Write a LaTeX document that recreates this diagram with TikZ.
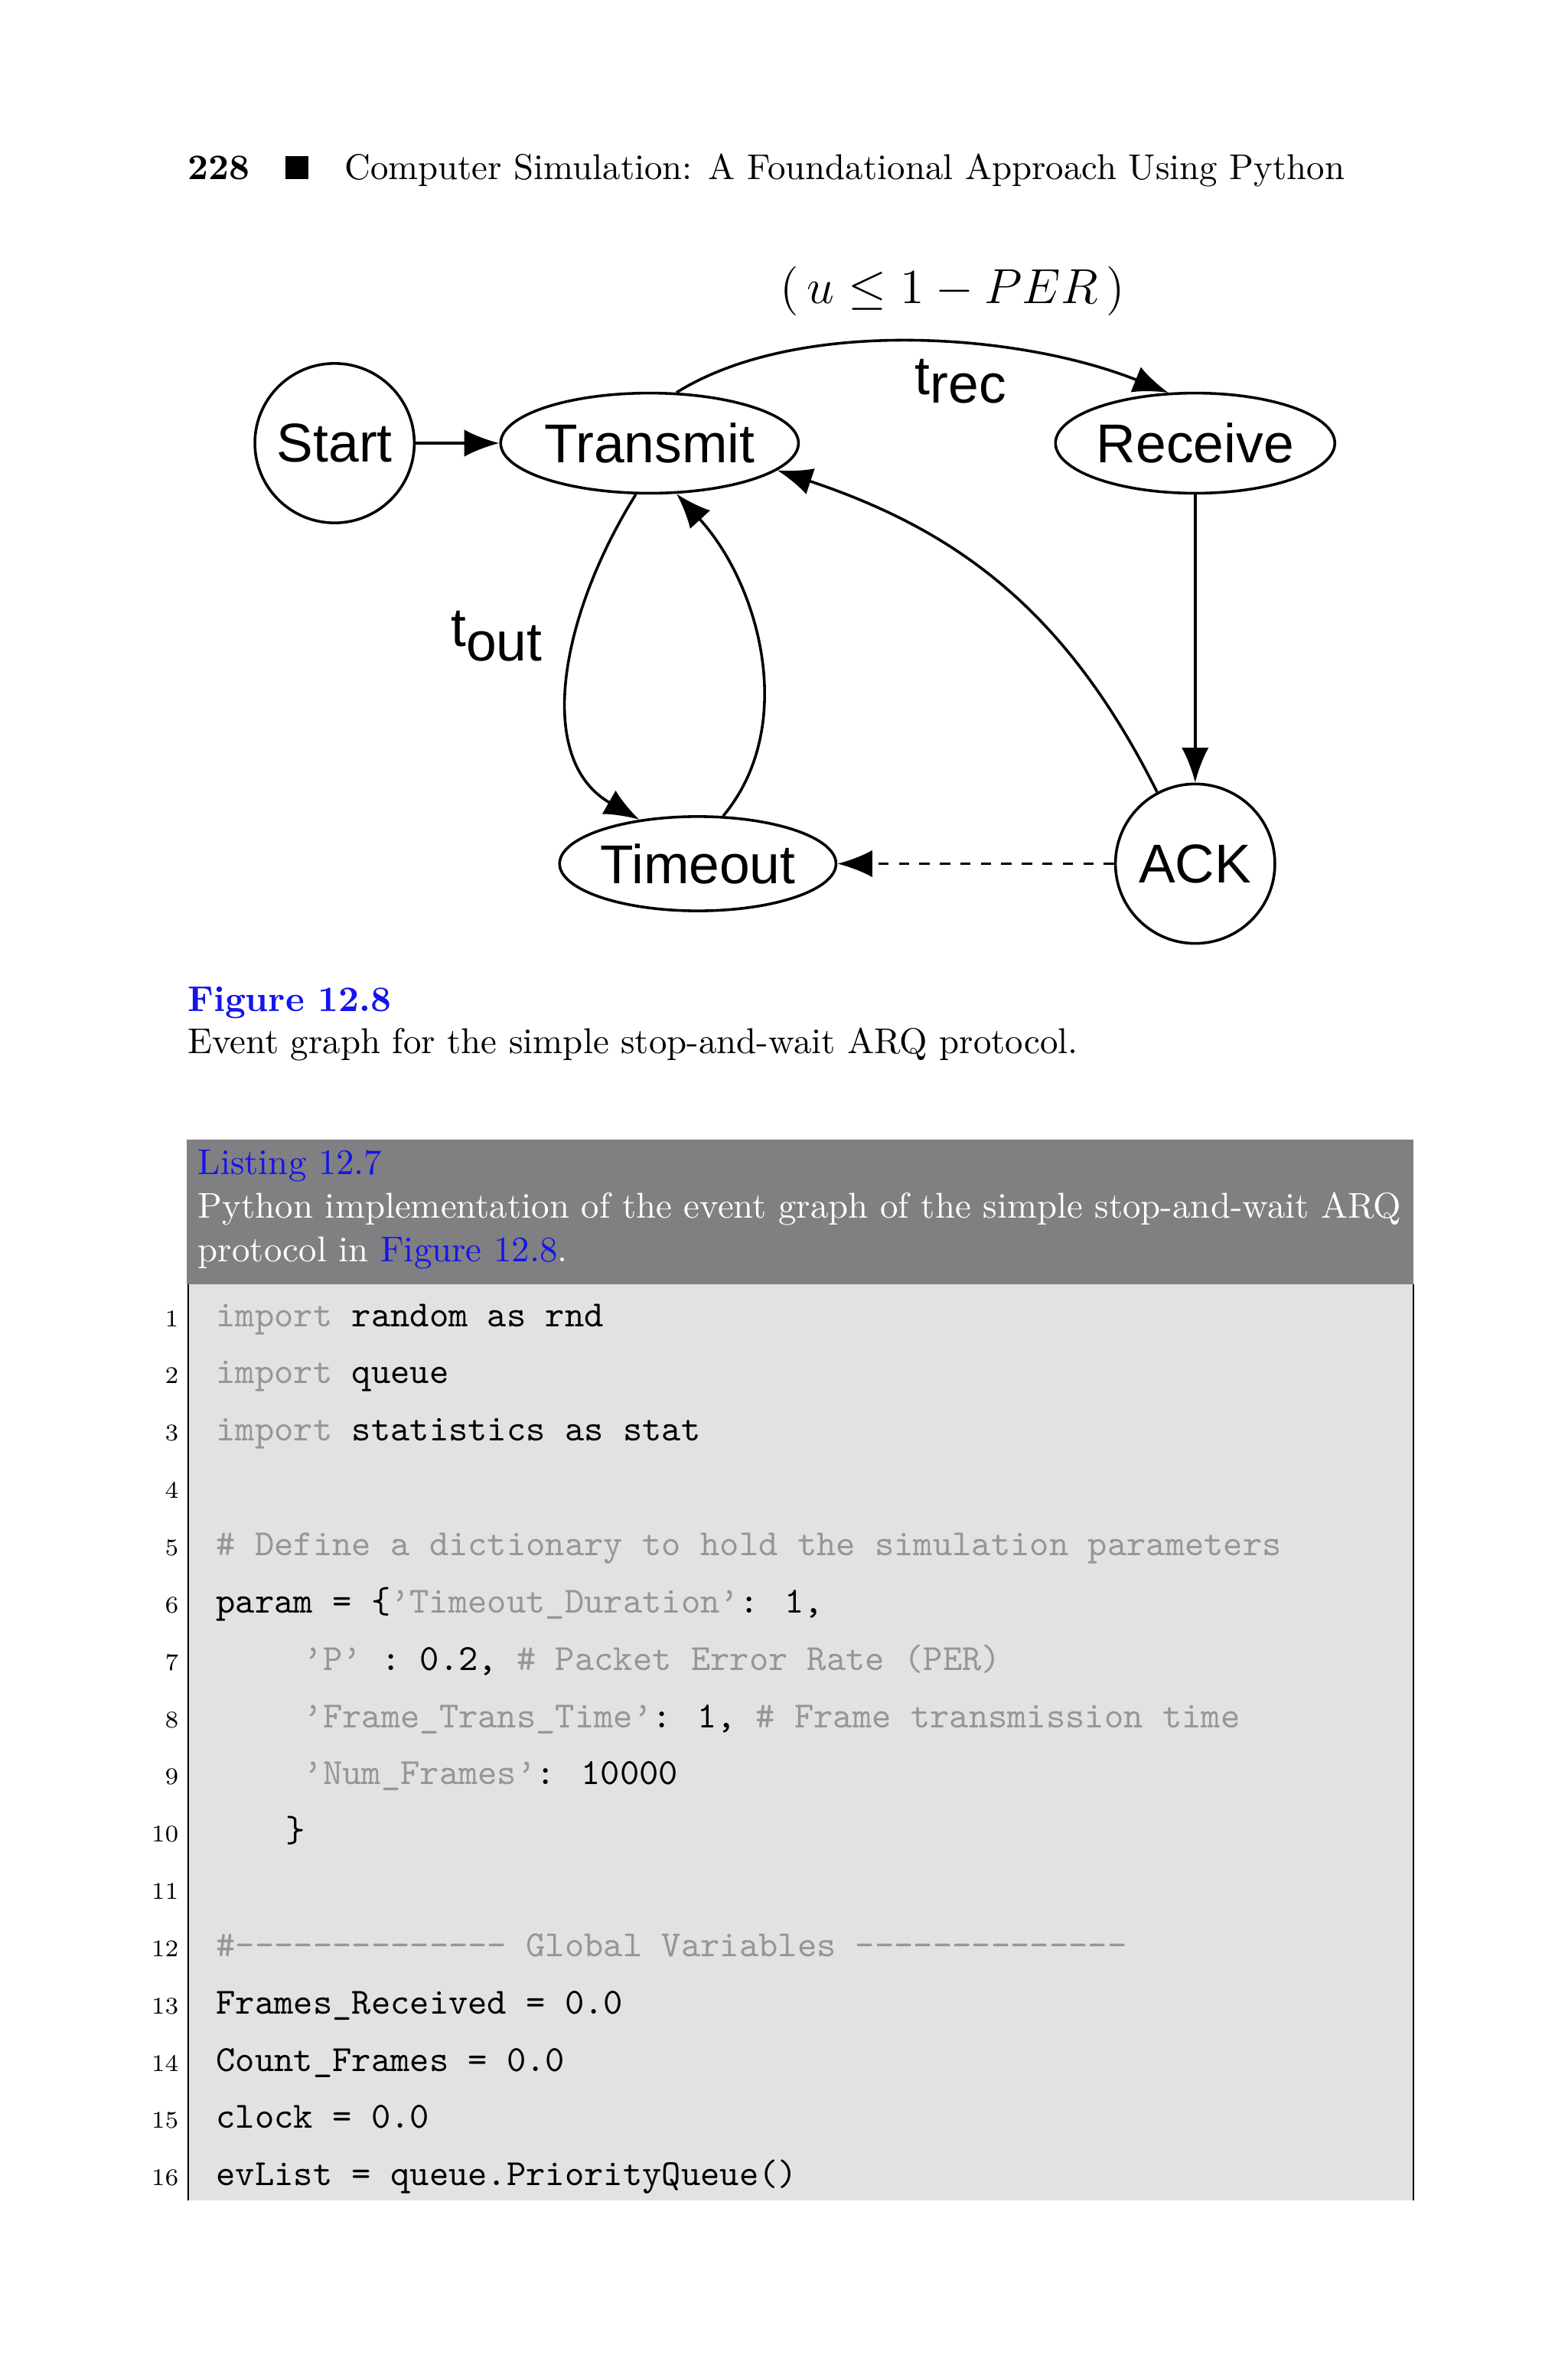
\documentclass[tikz,border=0pt]{standalone}
\usepackage{fontspec}
\newfontfamily\graphfont{Liberation Sans}
\usetikzlibrary{arrows.meta}
\usetikzlibrary{shapes.geometric}
\tikzset{>={Latex[length=3.6mm,width=2.8mm]}}
\definecolor{linkblue}{RGB}{20,20,235}
\definecolor{headgray}{RGB}{128,127,130}
\definecolor{codebg}{RGB}{226,226,228}
\definecolor{codegray}{RGB}{150,150,150}
\tikzset{
    state/.style={circle, draw, thick, minimum size=1.64cm, inner sep=0pt,
        font=\graphfont\fontsize{16}{19}\selectfont},
    event/.style={ellipse, draw, thick, minimum width=2.64cm, minimum height=1.03cm,
        inner sep=0pt, font=\graphfont\fontsize{16}{19}\selectfont},
    edge/.style={->, thick},
    codeline/.style={anchor=base west, inner sep=0pt, font=\ttfamily\fontsize{10.8}{13}\selectfont},
    lineno/.style={anchor=base east, inner sep=0pt, font=\fontsize{7}{8}\selectfont}
}
\newcommand{\cg}[1]{\textcolor{codegray}{#1}}
\begin{document}
\begin{tikzpicture}[x=0.0155cm, y=-0.0155cm]
\useasboundingbox (0,0) rectangle (1040,1571);
    %header
    \node[anchor=base west, inner sep=0pt, font=\fontsize{10.5}{12}\selectfont] (head) at (124,119)
        {\textbf{228}\quad\rule{2.4mm}{2.4mm}\quad Computer Simulation: A Foundational Approach Using Python};
    %events
    \node[state] (start) at (222,294) {Start};
    \node[event] (transmit) at (431,294) {Transmit};
    \node[event] (receive) at (793,294) {Receive};
    \node[state] (ack) at (793,573) {ACK};
    \node[event, minimum height=0.97cm] (timeout) at (463,573) {Timeout};
    %edges
    \draw[edge] (start) -- (transmit);
    \draw[edge] (transmit.62) .. controls +(80,-50) and +(-100,-40) .. (receive.118);
    \draw[edge] (receive) -- (ack);
    \draw[edge] (ack.118) .. controls +(-60,-120) and +(120,40) .. (transmit.-12);
    \draw[edge] (transmit.-105) .. controls +(-50,80) and +(-70,-40) .. (timeout.143);
    \draw[edge] (timeout.62) .. controls +(50,-60) and +(55,60) .. (transmit.-62);
    \draw[edge, dashed] (ack) -- (timeout);
    %labels
    \node[font=\fontsize{15}{18}\selectfont] (cond) at (632,193) {$(\,u \le 1 - PER\,)$};
    \node[font=\graphfont\fontsize{16}{19}\selectfont] (trec) at (638,253) {t\textsubscript{\fontsize{16}{19}\selectfont rec}};
    \node[font=\graphfont\fontsize{16}{19}\selectfont] (tout) at (330,422) {t\textsubscript{\fontsize{16}{19}\selectfont out}};
    %caption
    \node[anchor=base west, inner sep=0pt, font=\fontsize{10.5}{12}\selectfont\bfseries, text=linkblue] (fig) at (124,671) {Figure 12.8};
    \node[anchor=base west, inner sep=0pt, font=\fontsize{10.5}{12}\selectfont] (figcap) at (124,699)
        {Event graph for the simple stop-and-wait ARQ protocol.};
    %listing
    \fill[headgray] (124,756) rectangle (938,852);
    \fill[codebg] (124,852) rectangle (938,1460);
    \draw[thin] (125,852) -- (125,1460);
    \draw[thin] (938,852) -- (938,1460);
    \node[anchor=base west, inner sep=0pt, font=\fontsize{10.5}{12}\selectfont, text=linkblue] (lst) at (131,779) {Listing 12.7};
    \node[anchor=base west, inner sep=0pt, font=\fontsize{10.5}{12}\selectfont, text=white] (lstcap1) at (131,808)
        {Python implementation of the event graph of the simple stop-and-wait ARQ};
    \node[anchor=base west, inner sep=0pt, font=\fontsize{10.5}{12}\selectfont, text=white] (lstcap2) at (131,837)
        {protocol in \textcolor{linkblue}{Figure 12.8}.};
    %code
    \foreach \n in {1,...,16}
        \node[lineno] (n\n) at (119,{842+38*\n}) {\n};
    \node[codeline] (c1) at (143,880) {\cg{import} random as rnd};
    \node[codeline] (c2) at (143,918) {\cg{import} queue};
    \node[codeline] (c3) at (143,956) {\cg{import} statistics as stat};
    \node[codeline] (c5) at (143,1032) {\cg{\# Define a dictionary to hold the simulation parameters}};
    \node[codeline] (c6) at (143,1070) {param = \{\cg{’Timeout\_Duration’}: 1,};
    \node[codeline] (c7) at (143,1108) {\hspace*{5.5ex}\cg{’P’} : 0.2, \cg{\# Packet Error Rate (PER)}};
    \node[codeline] (c8) at (143,1146) {\hspace*{5.5ex}\cg{’Frame\_Trans\_Time’}: 1, \cg{\# Frame transmission time}};
    \node[codeline] (c9) at (143,1184) {\hspace*{5.5ex}\cg{’Num\_Frames’}: 10000};
    \node[codeline] (c10) at (143,1222) {\hspace*{4.4ex}\}};
    \node[codeline] (c12) at (143,1298) {\cg{\#-------------- Global Variables --------------}};
    \node[codeline] (c13) at (143,1336) {Frames\_Received = 0.0};
    \node[codeline] (c14) at (143,1374) {Count\_Frames = 0.0};
    \node[codeline] (c15) at (143,1412) {clock = 0.0};
    \node[codeline] (c16) at (143,1450) {evList = queue.PriorityQueue()};
\end{tikzpicture}
\end{document}
